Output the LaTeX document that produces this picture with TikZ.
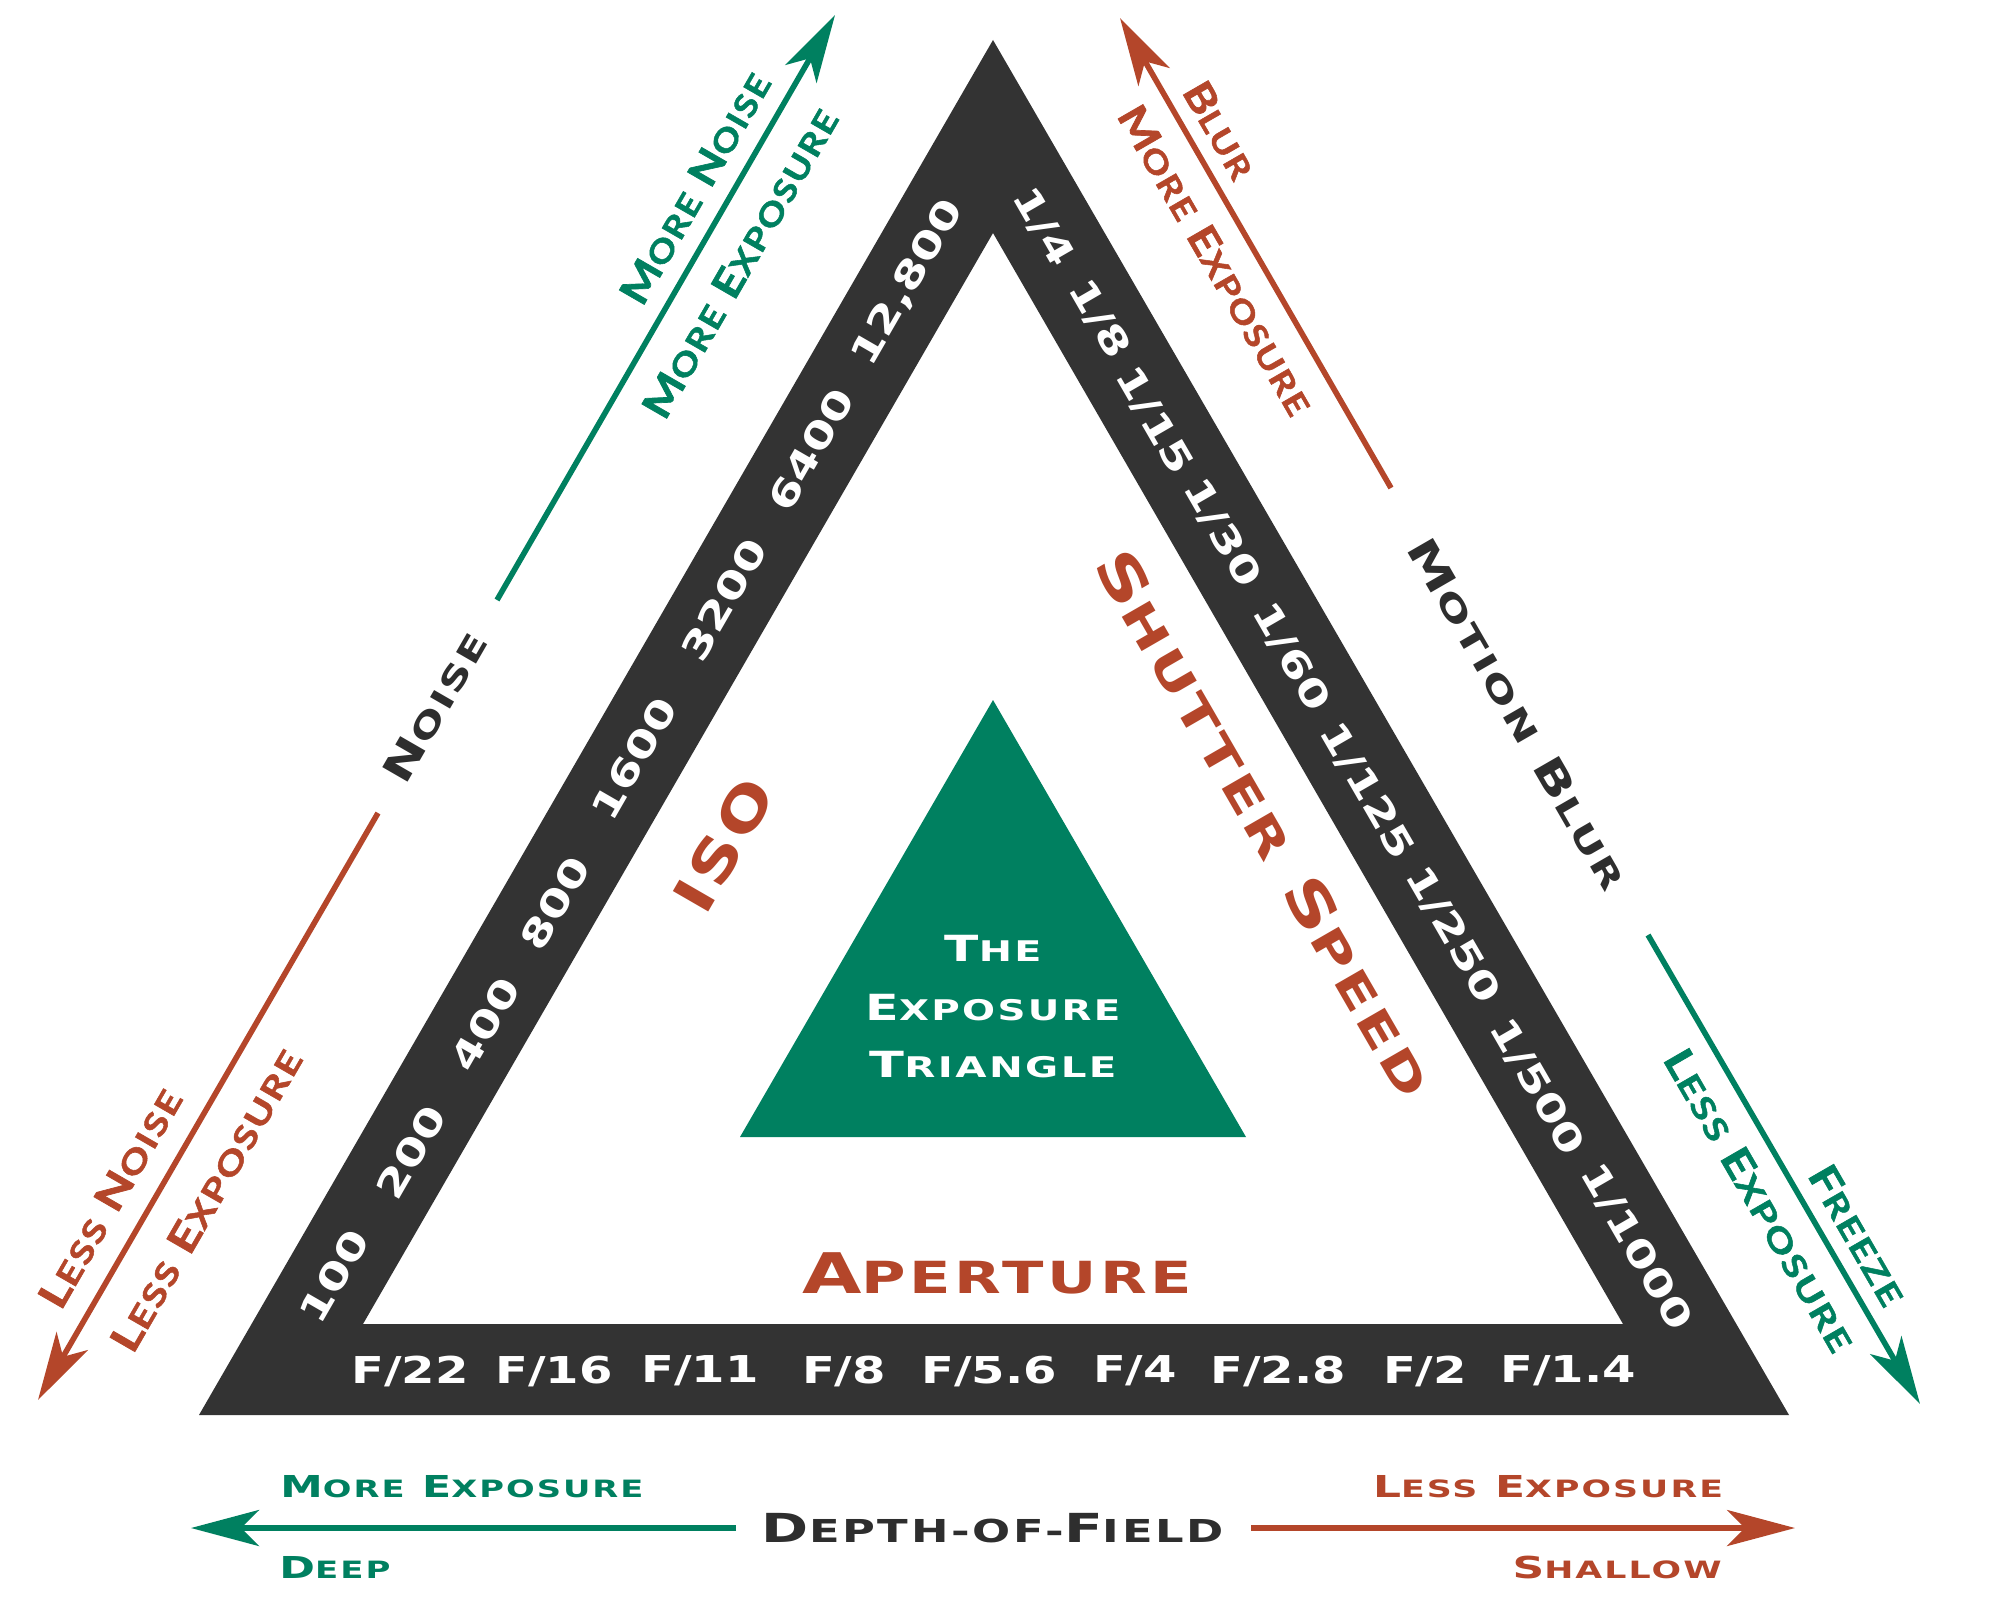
\documentclass[tikz,border=0pt]{standalone}
\usepackage{fontspec}
\usepackage{graphicx}
\usetikzlibrary{arrows.meta}
\newfontfamily\cpfont[LetterSpace=6]{DejaVu Sans}
\newfontfamily\gofont[LetterSpace=5,BoldFeatures={FakeBold=1.5}]{Lato}
\newfontfamily\numfont{DejaVu Sans}
\definecolor{band}{HTML}{333333}
\definecolor{grn}{HTML}{008060}
\definecolor{rust}{HTML}{B4462A}
\definecolor{ink}{HTML}{2E2E2E}
\makeatletter
\newcommand\smc[1]{{\fontsize{\fpeval{0.79*\f@size}}{0}\selectfont #1}}
\makeatother
\newcommand\fitw[2]{\resizebox{#1}{\height}{#2}}
\newcommand\nm[1]{\scalebox{1.3}[1]{#1}}
\begin{document}
\begin{tikzpicture}[x=0.5pt,y=-0.5pt,
  lbl/.style={inner sep=0pt},
  num/.style={inner sep=0pt,text=white,font=\numfont\bfseries\fontsize{18.5}{20}\selectfont},
  cpbig/.style={inner sep=0pt,text=rust,font=\cpfont\bfseries\fontsize{28}{30}\selectfont},
  cpmid/.style={inner sep=0pt,font=\cpfont\bfseries\fontsize{20}{22}\selectfont},
  cpsmall/.style={inner sep=0pt,font=\cpfont\bfseries\fontsize{15.1}{17}\selectfont},
  cptri/.style={inner sep=0pt,text=white,font=\cpfont\bfseries\fontsize{18}{20}\selectfont},
  go/.style={inner sep=0pt,font=\gofont\bfseries\fontsize{20}{22}\selectfont},
  arr/.style={line width=2.8pt,-{Stealth[length=34pt,width=18pt,inset=9pt]}},
  harr/.style={line width=3pt,-{Stealth[length=34pt,width=18pt,inset=9pt]}}
]
\useasboundingbox (0,0) rectangle (2000,1600);
\fill[white] (0,0) rectangle (2000,1600);

% main triangles
\fill[band,even odd rule] (993,40) -- (1789,1415) -- (199,1415) -- cycle
  (993,233) -- (1623,1324) -- (363,1324) -- cycle;
\fill[grn] (993,700) -- (1246,1137) -- (740,1137) -- cycle;

% ISO numbers
\node[num,rotate=60] (i1) at (334,1276) {\nm{100}};
\node[num,rotate=60] (i2) at (411,1152) {\nm{200}};
\node[num,rotate=60] (i3) at (485,1024) {\nm{400}};
\node[num,rotate=60] (i4) at (555,903) {\nm{800}};
\node[num,rotate=60] (i5) at (634,759) {\nm{1600}};
\node[num,rotate=60] (i6) at (724,600) {\nm{3200}};
\node[num,rotate=60] (i7) at (811,450) {\nm{6400}};
\node[num,rotate=60] (i8) at (908,283) {\nm{12,800}};

% shutter numbers
\node[num,rotate=-60] (s1) at (1043,227) {\nm{1/4}};
\node[num,rotate=-60] (s2) at (1099,319) {\nm{1/8}};
\node[num,rotate=-60] (s3) at (1154,421) {\nm{1/15}};
\node[num,rotate=-60] (s4) at (1222,533) {\nm{1/30}};
\node[num,rotate=-60] (s5) at (1291,657) {\nm{1/60}};
\node[num,rotate=-60] (s6) at (1367,791) {\nm{1/125}};
\node[num,rotate=-60] (s7) at (1453,935) {\nm{1/250}};
\node[num,rotate=-60] (s8) at (1537,1087) {\nm{1/500}};
\node[num,rotate=-60] (s9) at (1636,1247) {\nm{1/1000}};

% aperture numbers
\node[num] (f1) at (410,1371) {\nm{F/22}};
\node[num] (f2) at (554,1371) {\nm{F/16}};
\node[num] (f3) at (700,1371) {\nm{F/11}};
\node[num] (f4) at (844,1371) {\nm{F/8}};
\node[num] (f5) at (989,1371) {\nm{F/5.6}};
\node[num] (f6) at (1135,1371) {\nm{F/4}};
\node[num] (f7) at (1278,1371) {\nm{F/2.8}};
\node[num] (f8) at (1425,1371) {\nm{F/2}};
\node[num] (f9) at (1568,1371) {\nm{F/1.4}};

% main labels
\node[cpbig,rotate=60] (iso) at (724,845) {\fitw{72pt}{ISO}};
\node[cpbig,rotate=-60] (shut) at (1265,823) {\fitw{310pt}{S\smc{HUTTER} S\smc{PEED}}};
\node[cpbig] (ap) at (997,1273) {\fitw{195pt}{A\smc{PERTURE}}};

% centre
\node[cptri] (t1) at (993,948) {\fitw{48.5pt}{T\smc{HE}}};
\node[cptri] (t2) at (993,1008) {\fitw{127.5pt}{E\smc{XPOSURE}}};
\node[cptri] (t3) at (993,1065) {\fitw{123.5pt}{T\smc{RIANGLE}}};

% side titles
\node[cpmid,text=ink,rotate=60] (noise) at (435,707) {\fitw{83.5pt}{N\smc{OISE}}};
\node[cpmid,text=ink,rotate=-60] (mblur) at (1518,714) {\fitw{199.5pt}{M\smc{OTION} B\smc{LUR}}};
\node[cpmid,text=ink] (dof) at (993,1528) {\fitw{231pt}{D\smc{EPTH-OF-}F\smc{IELD}}};

% bottom labels
\node[cpsmall,text=grn] (bme) at (462,1487) {\fitw{181.5pt}{M\smc{ORE} E\smc{XPOSURE}}};
\node[cpsmall,text=grn,anchor=west] (deep) at (279,1567) {\fitw{55.5pt}{D\smc{EEP}}};
\node[cpsmall,text=rust] (ble) at (1548,1487) {\fitw{175pt}{L\smc{ESS} E\smc{XPOSURE}}};
\node[cpsmall,text=rust,anchor=east] (shal) at (1722,1567) {\fitw{104.5pt}{S\smc{HALLOW}}};

% arrow labels
\node[go,text=grn,rotate=60] (mn) at (695,188) {\fitw{130pt}{M\smc{ORE} N\smc{OISE}}};
\node[go,text=grn,rotate=60] (mex1) at (740,263) {\fitw{175pt}{M\smc{ORE} E\smc{XPOSURE}}};
\node[go,text=rust,rotate=-60] (blur) at (1220,130) {\fitw{52.5pt}{B\smc{LUR}}};
\node[go,text=rust,rotate=-60] (mex2) at (1216,260) {\fitw{175pt}{M\smc{ORE} E\smc{XPOSURE}}};
\node[go,text=rust,rotate=60] (ln) at (110,1198) {\fitw{123pt}{L\smc{ESS} N\smc{OISE}}};
\node[go,text=rust,rotate=60] (lex1) at (206,1200) {\fitw{171pt}{L\smc{ESS} E\smc{XPOSURE}}};
\node[go,text=grn,rotate=-60] (lex2) at (1760,1200) {\fitw{171pt}{L\smc{ESS} E\smc{XPOSURE}}};
\node[go,text=grn,rotate=-60] (frz) at (1858,1235) {\fitw{77.5pt}{F\smc{REEZE}}};

% arrow end points
\coordinate (tlT) at (497,600);  \coordinate (tlH) at (835,15);
\coordinate (trT) at (1391,488); \coordinate (trH) at (1120,18);
\coordinate (blT) at (378,813);  \coordinate (blH) at (38,1400);
\coordinate (brT) at (1648,935); \coordinate (brH) at (1920,1404);
\coordinate (bgT) at (736,1528); \coordinate (bgH) at (191,1528);
\coordinate (boT) at (1251,1528); \coordinate (boH) at (1795,1528);

\draw[arr,grn] (tlT) -- (tlH);
\draw[arr,rust] (trT) -- (trH);
\draw[arr,rust] (blT) -- (blH);
\draw[arr,grn] (brT) -- (brH);
\draw[harr,grn] (bgT) -- (bgH);
\draw[harr,rust] (boT) -- (boH);
\end{tikzpicture}
\end{document}
